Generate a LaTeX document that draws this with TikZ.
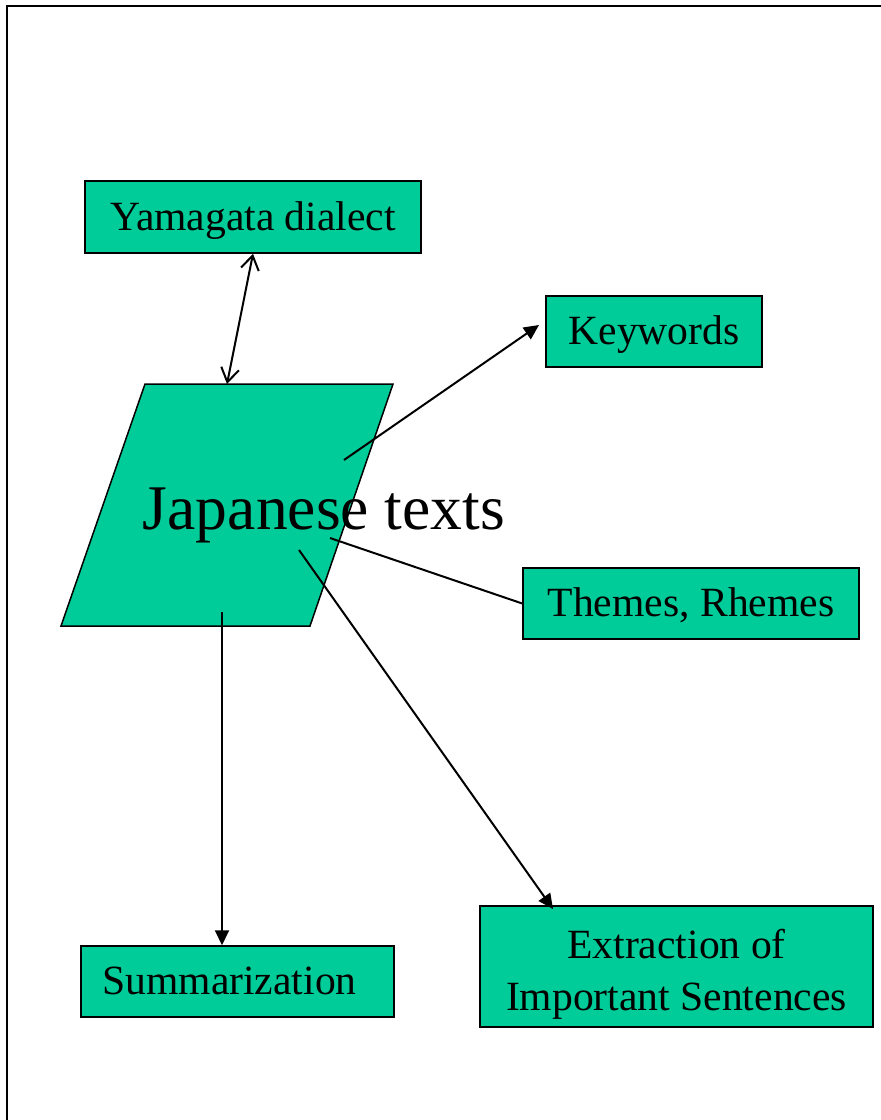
\documentclass[tikz,border=0pt]{standalone}
\usepackage{fontspec}
\setmainfont{Liberation Serif}
\usetikzlibrary{arrows.meta}
\definecolor{boxgreen}{RGB}{0,204,153}
\tikzset{
  box/.style={rectangle, draw, fill=boxgreen, line width=1.5pt, align=center,
    font=\fontsize{41.6}{52}\selectfont},
  onerow/.style={text height=33pt, text depth=7pt},
  link/.style={line width=2pt},
  tip/.style={-{Triangle[length=15pt,width=14pt]}}
}

\begin{document}
\begin{tikzpicture}[x=1pt, y=-1pt]
            \useasboundingbox (0,0) rectangle (881,1120);
            \draw[line width=2pt] (7,1120) -- (7,6) -- (881,6);

            % Parallelogram
            \fill[boxgreen, draw=black, line width=1.5pt] (145,384) -- (393,384) -- (310,626) -- (61,626) -- cycle;

            % Nodes
            \node[box, onerow, minimum width=336pt, minimum height=72pt] (yam) at (253,217) {Yamagata dialect};
            \node[box, onerow, minimum width=216pt, minimum height=71pt] (key) at (654,331.5) {Keywords};
            \node[box, onerow, minimum width=336pt, minimum height=71pt] (thr) at (691,603.5) {Themes, Rhemes};
            \node[box, onerow, minimum width=313pt, minimum height=71pt] (sum) at (237.5,981.5) {\hspace*{-16pt}Summarization};
            \node[box, minimum width=393pt, minimum height=121pt] (ext) at (676.5,966.5) {\rule{0pt}{44pt}Extraction of\\Important Sentences};
            \node[font=\fontsize{63.6}{76}\selectfont, inner sep=0pt] (jt) at (324,515) {Japanese texts};
            \coordinate (top) at (227,384);
            \coordinate (k0) at (344,460);
            \coordinate (t0) at (330,538);
            \coordinate (s0) at (222,612);
            \coordinate (e0) at (299,550);

            % Edges
            \draw[link, {Straight Barb[length=14pt,width=18pt]}-{Straight Barb[length=14pt,width=18pt]}] (yam.south -| 253,0) -- (top);
            \draw[link, tip] (k0) -- (539,325);
            \draw[link] (t0) -- (thr.west);
            \draw[link, tip] (s0) -- (s0 |- sum.north);
            \draw[link, tip] (e0) -- (553,909);
\end{tikzpicture}
\end{document}
